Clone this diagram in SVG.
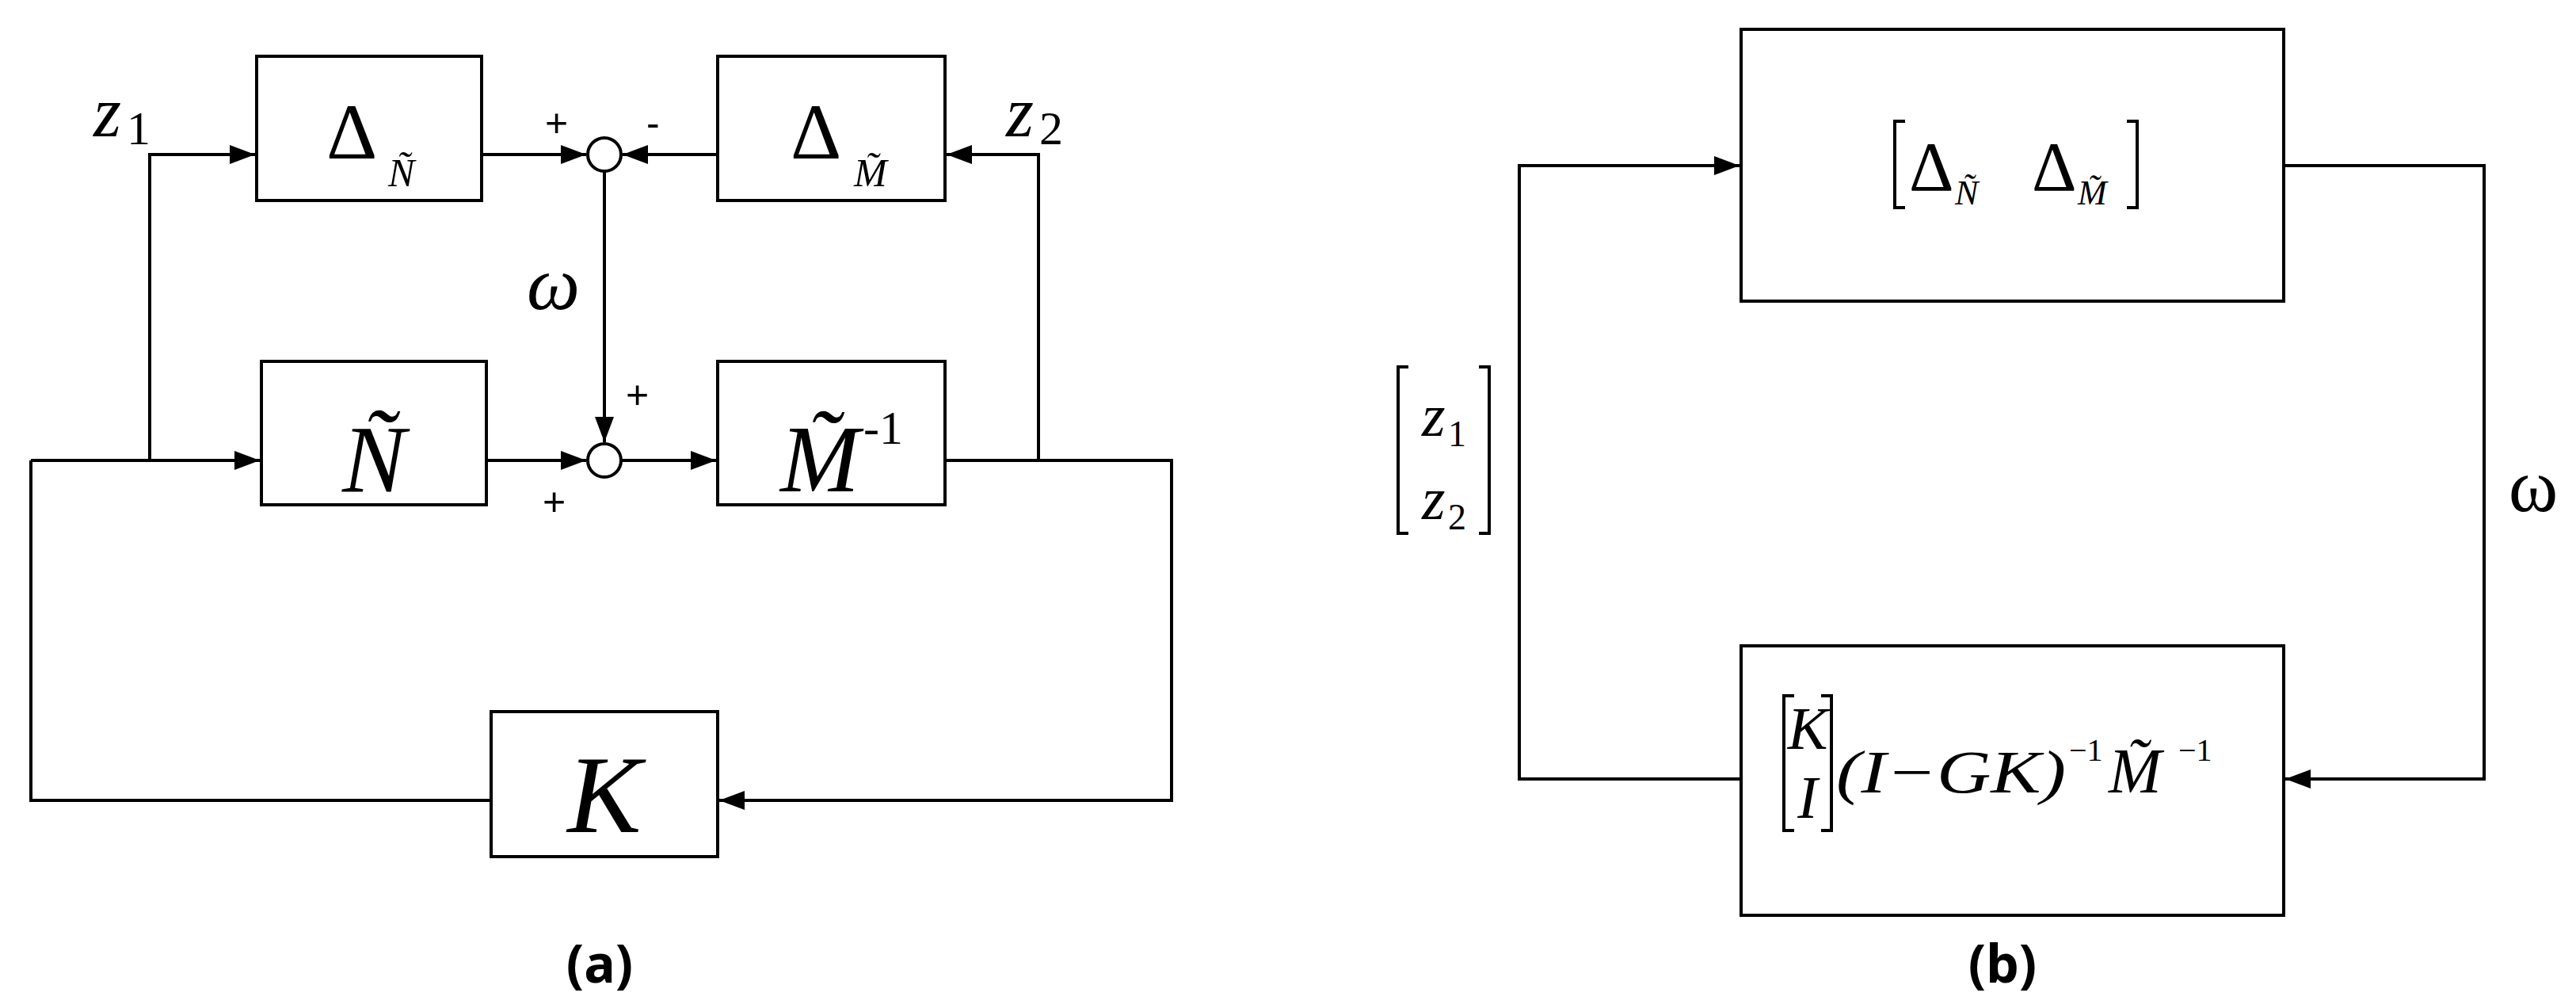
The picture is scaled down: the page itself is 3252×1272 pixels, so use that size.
<svg xmlns="http://www.w3.org/2000/svg" width="3252" height="1272" viewBox="0 0 3252 1272">
<style>
.b{fill:none;stroke:#000;stroke-width:4}
.l{fill:none;stroke:#000;stroke-width:4}
.m{font-family:"Liberation Serif",serif;font-style:italic;fill:#000}
.r{font-family:"Liberation Serif",serif;fill:#000}
.s{font-family:"Liberation Sans",sans-serif;fill:#000}
.cap{font-family:"Noto Sans","Liberation Sans",sans-serif;font-weight:bold;fill:#000;font-size:66px}
</style>
<defs><marker id="a" markerWidth="8" markerHeight="6" refX="8" refY="3" orient="auto" markerUnits="strokeWidth"><path d="M0,0L8,3L0,6z" fill="#000"/></marker></defs>
<rect width="3252" height="1272" fill="#fff"/>
<g id="connectors">
<path class="l" d="M189,581V195H322" marker-end="url(#a)"/>
<path class="l" d="M608,195H740" marker-end="url(#a)"/>
<path class="l" d="M906,195H786" marker-end="url(#a)"/>
<path class="l" d="M763,216V558" marker-end="url(#a)"/>
<path class="l" d="M39,581H328" marker-end="url(#a)"/>
<path class="l" d="M614,581H740" marker-end="url(#a)"/>
<path class="l" d="M784,581H904" marker-end="url(#a)"/>
<path class="l" d="M1193,581H1479V1010H908" marker-end="url(#a)"/>
<path class="l" d="M1311,581V195H1195" marker-end="url(#a)"/>
<path class="l" d="M620,1010H39V581"/>
<path class="l" d="M2198,983H1918V209H2196" marker-end="url(#a)"/>
<path class="l" d="M2883,209H3136V983H2885" marker-end="url(#a)"/>
</g>
<g id="sum1"><circle cx="763" cy="195" r="21" class="b" fill="#fff"/></g>
<g id="sum2"><circle cx="763" cy="581" r="21" class="b" fill="#fff"/></g>
<g id="dN"><rect x="324" y="71" width="284" height="182" class="b"/><text x="412" y="200" class="r" font-size="100">Δ</text><text x="490" y="235" class="m" font-size="50">Ñ</text></g>
<g id="dM"><rect x="906" y="71" width="287" height="182" class="b"/><text x="998" y="200" class="r" font-size="100">Δ</text><text x="1078" y="235" class="m" font-size="50">M̃</text></g>
<g id="N"><rect x="330" y="456" width="284" height="181" class="b"/><text x="472" y="620" class="m" font-size="120" text-anchor="middle">Ñ</text></g>
<g id="M"><rect x="906" y="456" width="287" height="181" class="b"/><text x="985" y="620" class="m" font-size="120">M̃</text><text x="1090" y="560" class="r" font-size="60">-1</text></g>
<g id="K"><rect x="620" y="898" width="286" height="183" class="b"/><text x="763" y="1050" class="m" font-size="140" text-anchor="middle">K</text></g>
<g id="labels-a">
<text x="118" y="172" class="m" font-size="90">z</text><text x="160" y="182" class="r" font-size="60">1</text>
<text x="1270" y="172" class="m" font-size="90">z</text><text x="1312" y="182" class="r" font-size="60">2</text>
<text x="665" y="390" class="m" font-size="95">ω</text>
<text x="688" y="172" class="s" font-size="50">+</text>
<text x="816" y="172" class="s" font-size="50">-</text>
<text x="790" y="515" class="s" font-size="50">+</text>
<text x="685" y="650" class="s" font-size="50">+</text>
<text x="757" y="1240" class="cap" text-anchor="middle">(a)</text>
</g>
<g id="top-b"><rect x="2198" y="37" width="685" height="343" class="b"/>
<path class="l" d="M2405,153H2392V262H2405M2685,153H2698V262H2685"/>
<text x="2410" y="240" class="r" font-size="88">Δ</text><text x="2468" y="258" class="m" font-size="44">Ñ</text>
<text x="2565" y="240" class="r" font-size="88">Δ</text><text x="2623" y="258" class="m" font-size="44">M̃</text></g>
<g id="bot-b"><rect x="2198" y="815" width="685" height="340" class="b"/>
<path class="l" d="M2265,878H2252V1048H2265M2299,878H2312V1048H2299"/>
<text x="2282" y="945" class="m" font-size="76" text-anchor="middle">K</text>
<text x="2282" y="1032" class="m" font-size="76" text-anchor="middle">I</text>
<text x="2318" y="1000" class="m" font-size="76" textLength="290" lengthAdjust="spacingAndGlyphs"><tspan class="r">(</tspan>I<tspan class="r">−</tspan>GK<tspan class="r">)</tspan></text>
<text x="2612" y="960" class="r" font-size="40">−1</text>
<text x="2662" y="1000" class="m" font-size="80">M̃</text>
<text x="2750" y="960" class="r" font-size="40">−1</text></g>
<g id="labels-b">
<path class="l" d="M1778,463H1765V673H1778M1867,463H1880V673H1867"/>
<text x="1795" y="550" class="m" font-size="76">z</text><text x="1828" y="563" class="r" font-size="46">1</text>
<text x="1795" y="655" class="m" font-size="76">z</text><text x="1828" y="668" class="r" font-size="46">2</text>
<text x="3198" y="645" class="r" font-size="95" text-anchor="middle">ω</text>
<text x="2528" y="1240" class="cap" text-anchor="middle">(b)</text>
</g>
</svg>
